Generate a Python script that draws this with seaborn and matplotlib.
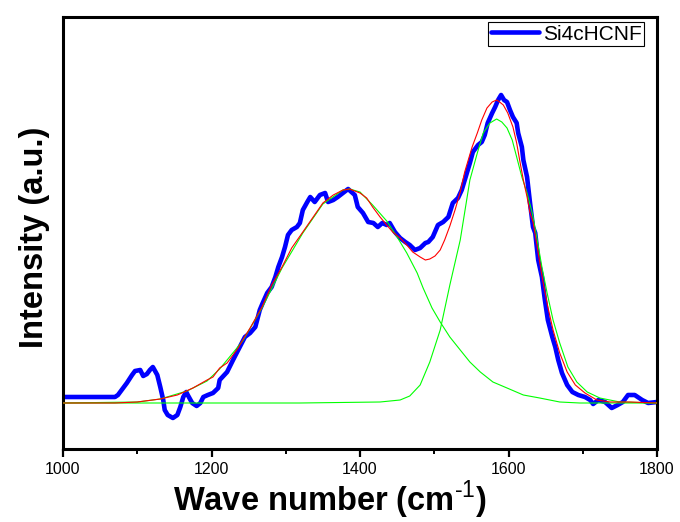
import matplotlib
matplotlib.use("Agg")
import matplotlib.pyplot as plt
import seaborn as sns
import pandas as pd
from matplotlib.ticker import MultipleLocator

# ---- data (wavenumber cm^-1, intensity a.u.) ----
raw_x = [1000, 1070, 1074, 1081, 1086, 1093, 1097, 1104, 1108, 1113, 1117, 1121, 1127, 1131,
         1135, 1137, 1141, 1148, 1154, 1158, 1162, 1166, 1168, 1174, 1180, 1185, 1189, 1195,
         1202, 1209, 1211, 1221, 1229, 1236, 1245, 1252, 1259, 1265, 1269, 1275, 1281, 1286,
         1290, 1295, 1299, 1303, 1308, 1315, 1319, 1323, 1329, 1333, 1339, 1346, 1353, 1357,
         1364, 1370, 1377, 1384, 1393, 1397, 1404, 1411, 1418, 1424, 1430, 1436, 1440, 1447,
         1454, 1461, 1467, 1474, 1481, 1488, 1492, 1498, 1505, 1512, 1519, 1525, 1532, 1537,
         1544, 1548, 1552, 1559, 1564, 1568, 1572, 1578, 1582, 1586, 1590, 1594, 1598, 1602,
         1606, 1611, 1613, 1618, 1620, 1625, 1629, 1633, 1636, 1640, 1645, 1649, 1653, 1659,
         1663, 1667, 1672, 1679, 1686, 1694, 1703, 1710, 1714, 1721, 1730, 1739, 1747, 1754,
         1761, 1770, 1780, 1788, 1800]
raw_y = [52, 52, 54, 61, 66, 74, 78, 79, 73, 75, 79, 82, 74, 62,
         49, 39, 34, 31, 34, 42, 52, 57, 54, 46, 43, 46, 52, 54,
         56, 61, 69, 77, 89, 99, 112, 116, 122, 139, 146, 156, 162, 172,
         182, 192, 202, 214, 219, 222, 226, 239, 247, 252, 247, 254, 256, 247,
         249, 252, 256, 260, 254, 242, 236, 227, 226, 222, 226, 224, 226, 217,
         211, 207, 204, 199, 201, 206, 207, 212, 224, 227, 232, 246, 251, 259,
         276, 286, 297, 304, 307, 314, 326, 336, 342, 349, 354, 349, 347, 339,
         332, 326, 316, 302, 289, 272, 246, 222, 216, 189, 172, 149, 129, 112,
         102, 89, 76, 64, 57, 54, 52, 49, 45, 49, 47, 41, 44, 47,
         54, 54, 49, 46, 47]

fit_x = [1000, 1070, 1100, 1131, 1154, 1175, 1194, 1202, 1211, 1221, 1236, 1242, 1252, 1268,
         1281, 1295, 1308, 1323, 1337, 1350, 1364, 1377, 1386, 1400, 1409, 1417, 1427, 1436,
         1444, 1454, 1463, 1471, 1481, 1488, 1494, 1501, 1508, 1514, 1521, 1528, 1535, 1541,
         1551, 1558, 1564, 1571, 1578, 1584, 1588, 1593, 1599, 1606, 1611, 1615, 1620, 1625,
         1629, 1633, 1640, 1646, 1653, 1660, 1669, 1679, 1690, 1703, 1719, 1737, 1764, 1800]
fit_y = [46, 46, 47, 50, 54, 61, 69, 72, 81, 86, 101, 109, 121, 142,
         164, 182, 201, 217, 232, 246, 254, 259, 260, 256, 251, 242, 232, 224,
         217, 211, 204, 197, 192, 189, 190, 193, 199, 209, 223, 239, 257, 277,
         302, 316, 329, 341, 347, 349, 347, 344, 336, 322, 306, 289, 269, 252,
         236, 227, 196, 169, 142, 119, 96, 77, 64, 56, 49, 47, 47, 46]

d_x = [1000, 1100, 1131, 1167, 1194, 1211, 1242, 1268, 1295, 1323, 1350, 1377, 1386, 1400,
       1417, 1436, 1450, 1463, 1477, 1485, 1497, 1508, 1521, 1535, 1548, 1562, 1579, 1598,
       1620, 1642, 1669, 1696, 1800]
d_y = [46, 47, 50, 58, 68, 80, 108, 141, 181, 216, 245, 259, 260, 257,
       244, 228, 212, 196, 176, 161, 141, 127, 112, 99, 87, 77, 67, 61,
       54, 51, 47, 46, 46]

g_x = [1000, 1319, 1427, 1454, 1467, 1481, 1494, 1508, 1521, 1535, 1548, 1558, 1566, 1575,
       1584, 1591, 1598, 1605, 1611, 1618, 1625, 1632, 1638, 1645, 1652, 1660, 1669, 1680,
       1692, 1706, 1723, 1750, 1800]
g_y = [46, 46, 47, 49, 53, 64, 87, 119, 164, 209, 269, 296, 316, 326,
       330, 327, 321, 309, 292, 272, 256, 236, 212, 182, 156, 129, 106, 82,
       67, 57, 51, 47, 46]

legend_label = "Si4cHCNF"
x_ticks = [1000, 1200, 1400, 1600, 1800]

# ---- style ----
sns.set_theme(style="white")
plt.rcParams["font.family"] = ["Liberation Sans", "DejaVu Sans"]
plt.rcParams["mathtext.fontset"] = "custom"
plt.rcParams["mathtext.rm"] = "Liberation Sans"
plt.rcParams["mathtext.bf"] = "Liberation Sans:bold"
plt.rcParams["text.color"] = "black"
plt.rcParams["axes.labelcolor"] = "black"
plt.rcParams["xtick.color"] = "black"
plt.rcParams["ytick.color"] = "black"

fig = plt.figure(figsize=(6.8, 5.22), dpi=100)
ax = fig.add_axes([63 / 680, 1 - 449 / 522, (657 - 63) / 680, (449 - 17) / 522])

df_raw = pd.DataFrame({"x": raw_x, "y": raw_y})
df_fit = pd.DataFrame({"x": fit_x, "y": fit_y})
df_d = pd.DataFrame({"x": d_x, "y": d_y})
df_g = pd.DataFrame({"x": g_x, "y": g_y})

sns.lineplot(data=df_raw, x="x", y="y", ax=ax, color="#0000FF", lw=3.3,
             estimator=None, sort=False, label=legend_label, zorder=2)
sns.lineplot(data=df_d, x="x", y="y", ax=ax, color="#00FF00", lw=0.8,
             estimator=None, sort=False, zorder=3, legend=False)
sns.lineplot(data=df_g, x="x", y="y", ax=ax, color="#00FF00", lw=0.8,
             estimator=None, sort=False, zorder=3, legend=False)
sns.lineplot(data=df_fit, x="x", y="y", ax=ax, color="#FF0000", lw=0.8,
             estimator=None, sort=False, zorder=4, legend=False)

ax.set_xlim(1000, 1800)
ax.set_ylim(0, 432)
ax.set_xticks(x_ticks)
ax.xaxis.set_minor_locator(MultipleLocator(100))
ax.set_yticks([])
ax.tick_params(axis="x", which="major", direction="out", length=6, width=1.6,
               color="black", labelcolor="black", labelsize=11.5, pad=3,
               bottom=True, top=False)
ax.tick_params(axis="x", which="minor", direction="out", length=3.5, width=1.4,
               color="black", bottom=True, top=False)
for sp in ax.spines.values():
    sp.set_visible(True)
    sp.set_color("black")
    sp.set_linewidth(2.2)

ax.set_xlabel(r"Wave number (cm$^{\text{-1}}$)", fontsize=23.5,
              fontweight="bold", color="black")
ax.set_ylabel("Intensity (a.u.)", fontsize=23.5, fontweight="bold", color="black")
ax.xaxis.set_label_coords(0.45, -0.068)
ax.yaxis.set_label_coords(-0.022, 0.49)

leg = ax.legend(loc="upper right", bbox_to_anchor=((644 - 63) / 594, 1 - 5 / 432),
                borderaxespad=0, fontsize=15, frameon=True, fancybox=False,
                edgecolor="black", framealpha=1, handlelength=2.3,
                handletextpad=0.2, borderpad=0.12)
leg.get_frame().set_linewidth(0.8)
for t in leg.get_texts():
    t.set_color("black")

fig.savefig("out.png", dpi=100)
